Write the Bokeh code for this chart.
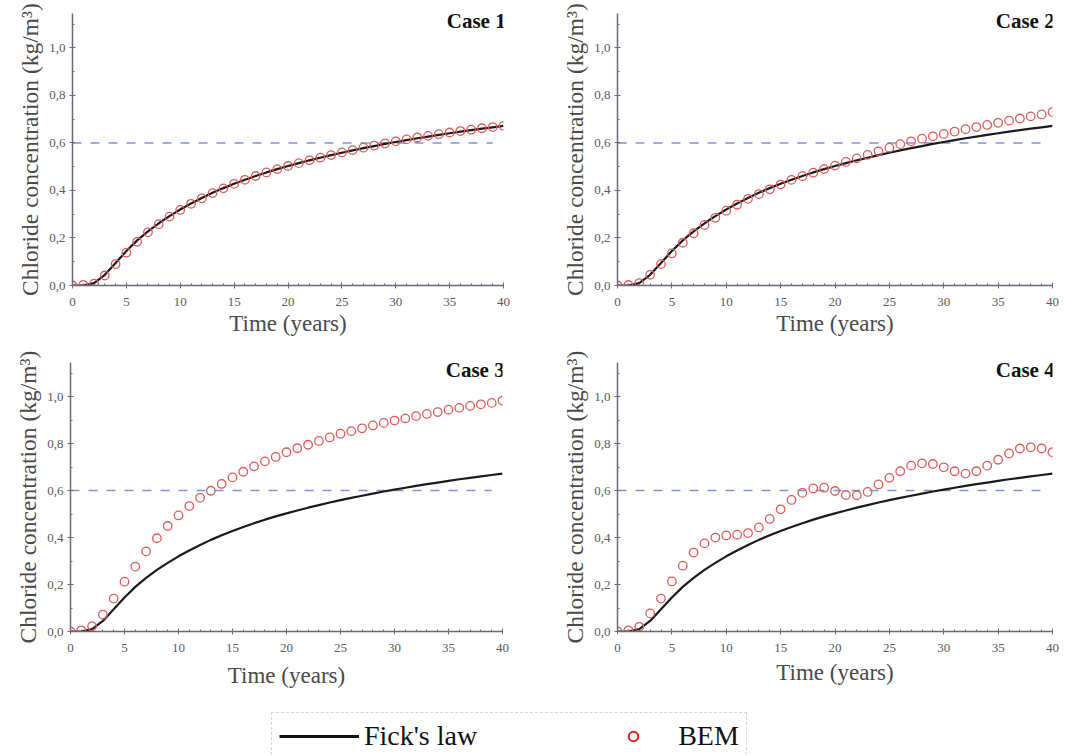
from bokeh.plotting import figure
from bokeh.layouts import column, row
from bokeh.models import FixedTicker, Legend, LegendItem, Range1d
from bokeh.core.properties import value
from bokeh.embed import file_html
from bokeh.resources import INLINE

years = list(range(0, 41))

fick = [0.000, 0.000, 0.010, 0.045, 0.095, 0.145, 0.190, 0.228, 0.262, 0.292,
        0.320, 0.345, 0.368, 0.390, 0.410, 0.428, 0.445, 0.461, 0.476, 0.490,
        0.503, 0.515, 0.527, 0.538, 0.549, 0.559, 0.569, 0.578, 0.587, 0.596,
        0.604, 0.612, 0.620, 0.627, 0.634, 0.641, 0.648, 0.654, 0.660, 0.666, 0.672]

bem_case1 = [0.000, 0.003, 0.008, 0.042, 0.090, 0.138, 0.184, 0.224, 0.258, 0.290,
             0.318, 0.344, 0.367, 0.389, 0.409, 0.428, 0.445, 0.461, 0.476, 0.490,
             0.503, 0.515, 0.527, 0.538, 0.549, 0.560, 0.570, 0.580, 0.589, 0.598,
             0.607, 0.615, 0.623, 0.630, 0.637, 0.644, 0.650, 0.656, 0.662, 0.667, 0.672]

bem_case2 = [0.000, 0.002, 0.010, 0.045, 0.090, 0.135, 0.180, 0.220, 0.255, 0.285,
             0.315, 0.340, 0.365, 0.385, 0.405, 0.425, 0.445, 0.460, 0.475, 0.490,
             0.505, 0.520, 0.535, 0.550, 0.565, 0.580, 0.595, 0.607, 0.618, 0.628,
             0.638, 0.648, 0.658, 0.667, 0.676, 0.685, 0.694, 0.703, 0.712, 0.720, 0.730]

bem_case3 = [0.000, 0.005, 0.022, 0.072, 0.140, 0.212, 0.276, 0.341, 0.397, 0.449,
             0.494, 0.534, 0.569, 0.599, 0.628, 0.656, 0.680, 0.703, 0.724, 0.743,
             0.763, 0.780, 0.795, 0.811, 0.826, 0.842, 0.853, 0.865, 0.877, 0.888,
             0.898, 0.907, 0.917, 0.926, 0.934, 0.944, 0.952, 0.960, 0.967, 0.973, 0.983]

bem_case4 = [0.000, 0.005, 0.020, 0.077, 0.140, 0.213, 0.280, 0.336, 0.375, 0.400,
             0.409, 0.412, 0.419, 0.443, 0.479, 0.520, 0.560, 0.590, 0.609, 0.612,
             0.598, 0.581, 0.580, 0.594, 0.626, 0.654, 0.682, 0.706, 0.716, 0.713,
             0.699, 0.682, 0.672, 0.682, 0.706, 0.731, 0.758, 0.779, 0.784, 0.779, 0.763]

threshold = 0.6
case_labels = ["Case 1", "Case 2", "Case 3", "Case 4"]
bem_series = [bem_case1, bem_case2, bem_case3, bem_case4]
x_ticks = [0, 5, 10, 15, 20, 25, 30, 35, 40]
y_ticks = [0.0, 0.2, 0.4, 0.6, 0.8, 1.0]
y_tick_labels = ["0,0", "0,2", "0,4", "0,6", "0,8", "1,0"]

SERIF = "Liberation Serif"
AX = "#6a6a78"
TXT = "#5a5a5a"


def panel(idx, width, height, bl, br, bt, bb, xlab_standoff):
    p = figure(width=width, height=height, output_backend="svg", toolbar_location=None,
               x_range=Range1d(0, 40), y_range=Range1d(0, 1.145),
               min_border_left=bl, min_border_right=br, min_border_top=bt,
               min_border_bottom=bb, outline_line_color=None)
    p.grid.visible = False
    p.background_fill_color = "white"
    p.border_fill_color = "white"
    p.xaxis.ticker = FixedTicker(ticks=x_ticks, minor_ticks=list(range(0, 41)))
    p.yaxis.ticker = FixedTicker(ticks=y_ticks,
                                 minor_ticks=[0.1 * i for i in range(0, 12)])
    p.yaxis.major_label_overrides = {t: s for t, s in zip(y_ticks, y_tick_labels)}
    for ax in (p.xaxis, p.yaxis):
        ax.axis_line_color = AX
        ax.axis_line_width = 1.5
        ax.major_tick_line_color = AX
        ax.minor_tick_line_color = AX
        ax.major_tick_in = 3
        ax.major_tick_out = 3
        ax.minor_tick_in = 2
        ax.minor_tick_out = 0
        ax.major_label_text_font = SERIF
        ax.major_label_text_font_size = "13px"
        ax.major_label_text_color = TXT
        ax.axis_label_text_font = SERIF
        ax.axis_label_text_font_style = "normal"
        ax.axis_label_text_color = "#4a4a4a"
    p.xaxis.axis_label_text_font_size = "23px"
    p.yaxis.axis_label_text_font_size = "23.5px"
    p.xaxis.axis_label = "Time (years)"
    p.yaxis.axis_label = "Chloride concentration (kg/m³)"
    p.xaxis.axis_label_standoff = xlab_standoff
    p.yaxis.axis_label_standoff = 3
    p.xaxis.major_label_standoff = 9
    p.yaxis.major_label_standoff = 4

    p.line([0, 39], [threshold, threshold], line_color="#7f93e0", line_width=1.6,
           line_dash="9 9")
    p.line(years, fick, line_color="#1a1a1a", line_width=2.2)
    p.scatter(years, bem_series[idx], marker="circle", size=8.5, fill_color=None,
              line_color="#e05a5a", line_width=1.3)
    p.text(x=[40.2], y=[1.112], text=[case_labels[idx]], text_align="right",
           text_baseline="middle", text_font=value(SERIF), text_font_size="21px",
           text_font_style="bold", text_color="#111111")
    return p


p1 = panel(0, 540, 340, 72, 37, 13, 55, 2)
p2 = panel(1, 535, 340, 77, 23, 12, 54, 2)
p3 = panel(2, 540, 360, 70, 38, 17, 69, 8)
p4 = panel(3, 535, 360, 77, 23, 22, 64, 5)

leg = figure(width=1075, height=56, output_backend="svg", toolbar_location=None,
             x_range=Range1d(0, 1), y_range=Range1d(0, 1), min_border=0,
             outline_line_color=None)
leg.axis.visible = False
leg.grid.visible = False
r_line = leg.line([-5, -4], [-5, -5], line_color="#111111", line_width=3)
r_circ = leg.scatter([-5], [-5], marker="circle", size=13, fill_color=None,
                     line_color="#e02020", line_width=2)
legend = Legend(items=[LegendItem(label="Fick's law", renderers=[r_line]),
                       LegendItem(label="BEM", renderers=[r_circ])],
                orientation="horizontal", location=(271, -4),
                glyph_width=80, glyph_height=24, label_standoff=5, spacing=116,
                padding=7, margin=0,
                label_text_font=SERIF, label_text_font_size="28px",
                label_text_color="#111111",
                border_line_color="#9ab0c8", border_line_dash="2 2",
                border_line_width=1.5, background_fill_alpha=1)
leg.add_layout(legend, "center")

layout = column(row(p1, p2), row(p3, p4), leg, spacing=0)
open("out.html", "w").write(file_html(layout, INLINE))
